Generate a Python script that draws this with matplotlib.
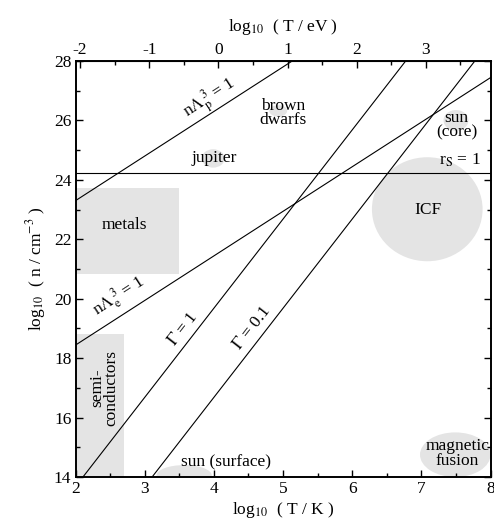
import numpy as np
import matplotlib
matplotlib.use("Agg")
import matplotlib.pyplot as plt
from matplotlib.patches import Ellipse, Rectangle

plt.rcParams['font.family'] = ['Liberation Serif', 'DejaVu Serif']
plt.rcParams['mathtext.fontset'] = 'stix'
plt.rcParams['axes.unicode_minus'] = False
plt.rcParams['font.size'] = 12.5

# offset between log10(T/K) and log10(T/eV)
K_PER_EV = np.log10(11604.5)

# boundary lines: log10 n = slope * log10 T + intercept
line_names = ['lambda_p', 'lambda_e', 'gamma_1', 'gamma_01']
line_slopes = [1.5, 1.5, 3.0, 3.0]
line_intercepts = [20.3, 15.44, 7.68, 4.68]
rs_level = 24.22

# gray regions (rectangles): x0, y0, width, height
rect_names = ['metals', 'semiconductors']
rect_x = [2.0, 2.0]
rect_y = [20.82, 14.0]
rect_w = [1.5, 0.70]
rect_h = [2.89, 4.81]

# gray regions (ellipses): centre and size
ell_names = ['ICF', 'magnetic fusion', 'sun surface', 'jupiter', 'sun core', 'brown dwarfs']
ell_x = [7.085, 7.49, 3.57, 3.99, 7.50, 4.93]
ell_y = [23.01, 14.75, 14.05, 24.72, 26.0, 26.32]
ell_w = [1.60, 1.02, 0.80, 0.33, 0.36, 0.26]
ell_h = [3.50, 1.50, 0.70, 0.62, 0.70, 0.38]

gray = '#e4e4e4'

fig = plt.figure(figsize=(4.94, 5.21), dpi=100)
ax = fig.add_axes([0.153, 0.0845, 0.840, 0.7985])

for x0, y0, w, h in zip(rect_x, rect_y, rect_w, rect_h):
    ax.add_patch(Rectangle((x0, y0), w, h, facecolor=gray, edgecolor='none', zorder=1))
for cx, cy, w, h in zip(ell_x, ell_y, ell_w, ell_h):
    ax.add_patch(Ellipse((cx, cy), w, h, facecolor=gray, edgecolor='none', zorder=1))

xs = np.array([2.0, 8.0])
for s, b in zip(line_slopes, line_intercepts):
    ax.plot(xs, s * xs + b, color='black', lw=0.8, zorder=3)
ax.axhline(rs_level, color='black', lw=0.8, zorder=3)

ax.set_xlim(2, 8)
ax.set_ylim(14, 28)
ax.set_xticks(np.arange(2, 9, 1))
ax.set_xticks(np.arange(2, 8.01, 0.5), minor=True)
ax.set_yticks(np.arange(14, 29, 2))
ax.set_yticks(np.arange(14, 28.01, 1), minor=True)
ax.tick_params(which='both', direction='in', top=False, right=True, width=1.0)
ax.tick_params(which='major', length=5, labelsize=12.5, pad=3)
ax.tick_params(which='minor', length=3)
for sp in ax.spines.values():
    sp.set_linewidth(1.4)

ax.set_xlabel(r'log$_{10}$  ( T / K )', fontsize=12.5, labelpad=2)
ax.set_ylabel(r'log$_{10}$  ( n / cm$^{-3}$ )', fontsize=12.5, labelpad=4)

top = ax.secondary_xaxis('top', functions=(lambda x: x - K_PER_EV, lambda x: x + K_PER_EV))
top.set_xticks(np.arange(-2, 4, 1))
top.set_xticks(np.arange(-2, 3.6, 0.5), minor=True)
top.tick_params(which='both', direction='in', width=1.0)
top.tick_params(which='major', length=5, labelsize=12.5, pad=2)
top.tick_params(which='minor', length=3)
top.set_xlabel(r'log$_{10}$  ( T / eV )', fontsize=12.5, labelpad=8)

kw = dict(ha='center', va='center', fontsize=12.5, zorder=4, rotation_mode='anchor')
ax.text(3.95, 26.75, r'n$\Lambda_\mathrm{p}^{\;3}$ = 1', rotation=33, **kw)
ax.text(2.62, 20.1, r'n$\Lambda_\mathrm{e}^{\;3}$ = 1', rotation=33, **kw)
ax.text(3.56, 18.98, r'$\Gamma$ = 1', rotation=52, **kw)
ax.text(4.555, 19.0, r'$\Gamma$ = 0.1', rotation=52, **kw)
ax.text(5.0, 26.25, 'brown\ndwarfs', linespacing=0.85, **kw)
ax.text(4.0, 24.73, 'jupiter', **kw)
ax.text(7.51, 25.85, 'sun\n(core)', linespacing=0.85, **kw)
ax.text(7.56, 24.67, r'r$_\mathrm{S}$ = 1', **kw)
ax.text(7.09, 23.0, 'ICF', **kw)
ax.text(2.70, 22.48, 'metals', **kw)
ax.text(2.41, 17.0, 'semi-\nconductors', rotation=90, linespacing=0.85, **kw)
ax.text(4.18, 14.5, 'sun (surface)', **kw)
ax.text(7.52, 14.8, 'magnetic\nfusion', linespacing=0.9, **kw)

fig.savefig('out.png', dpi=100)
